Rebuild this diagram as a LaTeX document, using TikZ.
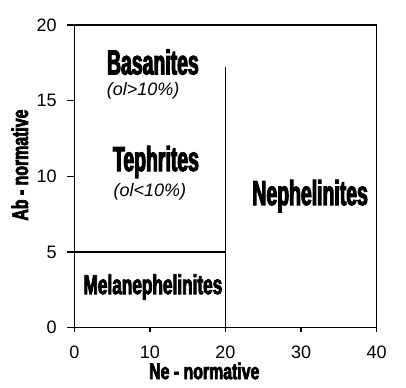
\documentclass[tikz,border=0pt]{standalone}
\usepackage{fontspec}
\setmainfont{Liberation Sans}
\newfontfamily\heavyfont[FakeStretch=0.56,FakeBold=3]{Liberation Sans Bold}
\newfontfamily\heavywide[FakeStretch=0.63,FakeBold=3]{Liberation Sans Bold}
\newfontfamily\heavyaxis[FakeStretch=0.7,FakeBold=3]{Liberation Sans Bold}
\usetikzlibrary{positioning}
\definecolor{ink}{RGB}{0,0,0}
\tikzset{
  frame/.style={draw=ink,line width=1.1pt},
  divider/.style={draw=ink,line width=0.9pt},
  tickmark/.style={draw=ink,line width=1pt},
  ticklab/.style={font=\fontsize{13.5}{15}\selectfont,text=ink,inner sep=0pt},
  field/.style={font=\heavyfont\fontsize{26}{28}\selectfont,text=ink,inner sep=0pt},
  olnote/.style={font=\itshape\fontsize{13.5}{15}\selectfont,text=ink,inner sep=0pt},
  axislab/.style={font=\heavyaxis\fontsize{17}{19}\selectfont,text=ink,inner sep=0pt},
}
\begin{document}
\begin{tikzpicture}[x=5.67pt,y=11.35pt]
  \useasboundingbox (-9.83,-3.92) rectangle (43.88,21.66);
  % plot frame and field boundaries
  \draw[frame] (0,0) rectangle (40,20);
  \draw[divider] (20,0) -- (20,17.25);
  \draw[divider] (0,5) -- (20,5);
  % ticks
  \foreach \y in {0,5,...,20} {
    \draw[tickmark] (-1,\y) -- (0,\y);
    \node[ticklab,anchor=east] (ylab\y) at (-2.3,\y) {\y};
  }
  \foreach \x in {0,10,...,40} {
    \draw[tickmark] (\x,0) -- (\x,-0.3);
    \node[ticklab,anchor=north] (xlab\x) at (\x,-1.2) {\x};
  }
  % fields
  \node[field] (basanites) at (10.4,17.56) {Basanites};
  \node[olnote] (olhigh) at (9.1,15.64) {(ol>10\%)};
  \node[field] (tephrites) at (10.8,10.95) {Tephrites};
  \node[olnote] (ollow) at (10.0,8.97) {(ol<10\%)};
  \node[field] (nephelinites) at (31.2,8.7) {Nephelinites};
  \node[field,font=\heavywide\fontsize{20.5}{22}\selectfont] (melaneph) at (10.4,2.69) {Melanephelinites};
  % axis titles
  \node[axislab] (nelab) at (17.2,-2.86) {Ne - normative};
  \node[axislab,rotate=90] (ablab) at (-7.2,10.75) {Ab - normative};
\end{tikzpicture}
\end{document}
